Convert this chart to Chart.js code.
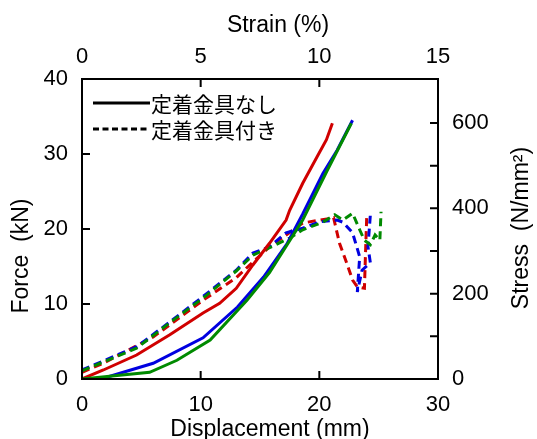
<!DOCTYPE html>
<html>
<head>
<meta charset="utf-8">
<script src="https://cdn.jsdelivr.net/npm/chart.js@4.4.0/dist/chart.umd.min.js"></script>
<style>
html, body { margin: 0; padding: 0; background: #fff; }
</style>
</head>
<body>
<canvas id="myChart" width="537" height="439"></canvas>
<script>
// displacement (mm) / force (kN)
var redPlainX = [0, 1.8, 4.6, 7.4, 10.2, 11.6, 13.0, 14.4, 15.8, 17.2, 17.5, 18.6, 19.8, 20.6, 21.1];
var redPlainY = [0, 1.2, 3.2, 5.9, 8.8, 10.1, 12.1, 15.2, 18.1, 21.2, 22.5, 26.1, 29.6, 31.9, 34.1];
var bluePlainX = [0, 1.8, 6.0, 10.2, 13.1, 15.3, 17.3, 18.6, 20.3, 21.5, 22.8];
var bluePlainY = [0, 0.1, 2.1, 5.5, 9.6, 13.6, 18.1, 22.0, 27.4, 30.5, 34.5];
var greenPlainX = [0, 5.7, 8.0, 10.8, 13.9, 15.8, 18.6, 20.6, 22.7];
var greenPlainY = [0, 0.9, 2.5, 5.2, 10.5, 14.2, 21.2, 27.6, 34.1];

var redFixX = [0, 1.8, 6.0, 10.2, 13.0, 14.4, 15.8, 18.6, 21.2, 21.7, 22.3, 22.8, 23.2, 23.8, 23.9, 24.0];
var redFixY = [0.9, 2.1, 5.6, 10.5, 13.5, 15.6, 17.6, 20.8, 21.5, 18.1, 15.5, 13.2, 12.3, 12.1, 17.2, 21.9];
var blueFixX = [0, 4.6, 7.4, 10.2, 13.0, 14.4, 15.8, 17.2, 18.6, 20.1, 21.5, 22.0, 22.8, 23.4, 23.2, 23.6, 24.3, 24.1, 24.3];
var blueFixY = [1.2, 4.3, 7.6, 11.0, 14.5, 16.8, 17.6, 19.5, 20.1, 21.0, 21.2, 20.9, 19.5, 16.3, 11.6, 14.5, 15.5, 17.6, 21.9];
var greenFixX = [0, 4.6, 7.4, 10.2, 13.0, 14.4, 15.8, 17.5, 18.6, 20.3, 21.3, 22.0, 22.8, 23.4, 23.8, 24.3, 24.7, 25.1, 25.2];
var greenFixY = [1.1, 4.1, 7.5, 10.8, 14.4, 16.5, 17.5, 18.8, 19.9, 20.9, 21.9, 21.2, 22.1, 19.9, 18.5, 17.9, 19.2, 18.5, 22.3];

var xTicks = [0, 10, 20, 30];
var strainTicks = [0, 5, 10, 15];
var forceTicks = [0, 10, 20, 30, 40];
var stressTicks = [0, 100, 200, 300, 400, 500, 600];
var stressMax = 703;

var legendLabels = ['定着金具なし', '定着金具付き'];

function pts(xs, ys) {
    return xs.map(function (x, i) { return { x: x, y: ys[i] }; });
}

var RED = '#d00000', BLUE = '#0000e0', GREEN = '#008a00';
var DASH = [8, 5];
var FONT = '"Liberation Sans", Arial, sans-serif';

function line(data, color, dashed) {
    return {
        data: data,
        borderColor: color,
        borderWidth: 3,
        borderDash: dashed ? DASH : [],
        pointRadius: 0,
        tension: 0,
        fill: false
    };
}

var framePlugin = {
    id: 'frame',
    afterDraw: function (chart) {
        var c = chart.ctx, a = chart.chartArea, s = chart.scales;
        c.save();
        c.strokeStyle = '#000';
        c.lineWidth = 2;
        c.setLineDash([]);
        c.strokeRect(a.left, a.top, a.right - a.left, a.bottom - a.top);
        // inward ticks
        var L = 8;
        c.beginPath();
        xTicks.forEach(function (v) {
            var p = s.x.getPixelForValue(v);
            c.moveTo(p, a.bottom); c.lineTo(p, a.bottom - L);
        });
        strainTicks.forEach(function (v) {
            var p = s.x2.getPixelForValue(v);
            c.moveTo(p, a.top); c.lineTo(p, a.top + L);
        });
        forceTicks.forEach(function (v) {
            var p = s.y.getPixelForValue(v);
            c.moveTo(a.left, p); c.lineTo(a.left + L, p);
        });
        stressTicks.forEach(function (v) {
            var p = s.y2.getPixelForValue(v);
            c.moveTo(a.right, p); c.lineTo(a.right - L, p);
        });
        c.stroke();

        // legend
        c.lineWidth = 3;
        c.beginPath(); c.moveTo(93, 103); c.lineTo(150, 103); c.stroke();
        c.setLineDash([6, 3.5]);
        c.beginPath(); c.moveTo(93, 129); c.lineTo(150, 129); c.stroke();
        c.setLineDash([]);
        c.fillStyle = '#000';
        c.font = '21px "Noto Sans CJK JP"';
        c.textAlign = 'left';
        c.textBaseline = 'middle';
        c.fillText(legendLabels[0], 151, 104);
        c.fillText(legendLabels[1], 151, 130);

        // axis titles
        c.font = '23px ' + FONT;
        c.textAlign = 'center';
        c.fillText('Strain (%)', 278, 26);
        c.fillText('Displacement (mm)', 270, 430);
        c.save();
        c.translate(22, 256); c.rotate(-Math.PI / 2);
        c.fillText('Force  (kN)', 0, 0);
        c.restore();
        c.save();
        c.translate(522, 228); c.rotate(-Math.PI / 2);
        c.fillText('Stress  (N/mm\u00b2)', 0, 0);
        c.restore();
        c.restore();
    }
};

var tickFont = { family: FONT, size: 22 };

var ctx = document.getElementById('myChart').getContext('2d');
var chart = new Chart(ctx, { //eslint-disable-line
    type: 'line',
    data: {
        datasets: [
            line(pts(greenPlainX, greenPlainY), GREEN, false),
            line(pts(redPlainX, redPlainY), RED, false),
            line(pts(bluePlainX, bluePlainY), BLUE, false),
            line(pts(greenFixX, greenFixY), GREEN, true),
            line(pts(blueFixX, blueFixY), BLUE, true),
            line(pts(redFixX, redFixY), RED, true)
        ]
    },
    options: {
        responsive: false,
        animation: false,
        layout: { padding: 0 },
        plugins: { legend: { display: false }, tooltip: { enabled: false } },
        scales: {
            x: {
                type: 'linear', position: 'bottom', min: 0, max: 30,
                grid: { display: false }, border: { display: false },
                ticks: { stepSize: 10, font: tickFont, color: '#000', padding: 5, maxRotation: 0 },
                afterFit: function (s) { s.height = 60; }
            },
            x2: {
                type: 'linear', position: 'top', min: 0, max: 15,
                grid: { display: false }, border: { display: false },
                ticks: { stepSize: 5, font: tickFont, color: '#000', padding: 1, maxRotation: 0 },
                afterFit: function (s) { s.height = 79; }
            },
            y: {
                type: 'linear', position: 'left', min: 0, max: 40,
                grid: { display: false }, border: { display: false },
                ticks: { stepSize: 10, font: tickFont, color: '#000', padding: 6 },
                afterFit: function (s) { s.width = 82; }
            },
            y2: {
                type: 'linear', position: 'right', min: 0, max: stressMax,
                grid: { display: false }, border: { display: false },
                ticks: { stepSize: 200, includeBounds: false, font: tickFont, color: '#000', padding: 6 },
                afterFit: function (s) { s.width = 99; }
            }
        }
    },
    plugins: [framePlugin]
});
</script>
</body>
</html>
